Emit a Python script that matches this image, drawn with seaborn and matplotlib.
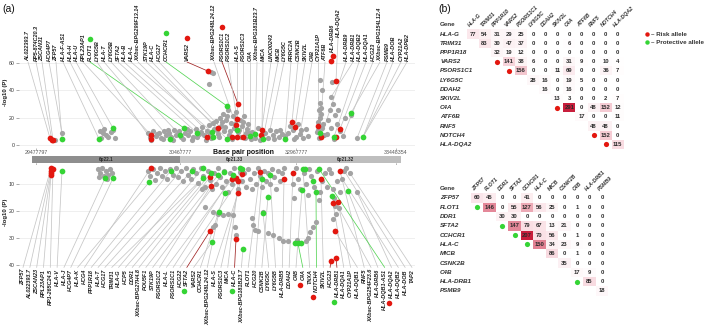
import numpy as np
import pandas as pd
import matplotlib
matplotlib.use("Agg")
import matplotlib.pyplot as plt
import seaborn as sns
from matplotlib.colors import LinearSegmentedColormap
from matplotlib.lines import Line2D

# ==============================================================================
# DATA - panel (a): SNPs ordered along the MHC region (rank), -log10(P)
# ==============================================================================

# --- upper panel: background SNPs ---
TOP_SNP_RANK = (
    [25, 32]
    + [70, 73, 76, 78, 81, 83, 71, 85, 74]
    + [118, 120, 123, 126, 129, 131, 134, 136, 139, 141]
    + [144, 146, 149, 151, 155, 158, 160, 163, 166, 169]
    + [172, 174, 177, 179, 181, 184, 186, 188, 190, 191]
    + [193, 194, 196, 198, 199, 201, 203, 204, 206, 208]
    + [210, 212, 214, 216, 218, 220]
    + [121, 127, 133, 138, 143, 148, 153, 157, 162, 167]
    + [171, 176, 180, 183, 187, 189, 192, 195, 197, 200]
    + [202, 205, 207, 209, 211, 213, 215, 217, 219, 221]
    + [181, 183, 179]
    + [222, 225, 228, 232, 235, 238, 240, 243, 246, 249, 252, 255, 230, 244, 250]
    + [258, 260, 263, 266, 268, 270, 273, 276, 278, 264, 271]
    + [290, 292, 289, 291, 290, 288, 292, 287, 294, 289, 290, 291, 288, 293]
    + [302, 301, 303, 300, 305, 298, 307, 301, 310, 297, 313, 304, 308, 315, 321, 327]
)
TOP_SNP_LOGP = (
    [4, 9]
    + [10, 9, 7, 6, 9.5, 11, 5, 5, 12]
    + [9, 6, 10, 6.5, 9, 5, 10, 7, 9, 6]
    + [11, 7, 10, 6, 9, 7, 10, 6, 12, 8]
    + [13, 7, 10, 14.5, 5, 12, 17.5, 8, 20, 14]
    + [23, 10, 18, 25.6, 7, 16, 21, 12.5, 24, 9.5]
    + [18, 14, 21, 9, 15, 6]
    + [4, 8, 4.5, 11, 4, 8.5, 4.5, 11.5, 4, 6]
    + [9.5, 4, 8, 16, 11, 6, 17, 13, 21, 10]
    + [4.5, 15, 19, 11, 6, 17, 5, 12, 9, 4.5]
    + [53.5, 53, 44.5]
    + [9.5, 5, 12.5, 6.5, 9, 5, 11, 7, 10, 6, 8, 6.5, 4, 4.5, 11]
    + [9, 14, 11, 6, 15, 8, 5, 12, 6.5, 4.5, 11]
    + [47.6, 40, 25.6, 22.7, 20, 17, 12.5, 9.5, 7, 5, 30.7, 27, 11, 15]
    + [46, 35, 30, 25.6, 22, 18, 15, 12.5, 10, 8, 6.5, 4.4, 25.6, 20, 22, 5]
)

# --- upper panel: risk / protective SNPs ---
TOP_RISK_RANK = [20, 22, 23, 121, 121, 177, 178, 188, 206, 207, 208, 207, 202,
                 213, 232, 231, 262, 265, 288, 291, 303, 301, 306, 310, 306]
TOP_RISK_LOGP = [5, 3.7, 3.7, 7.3, 4.4, 5.9, 54, 12.4, 14.6, 19, 30, 5.9, 5.9,
                 5.9, 11, 7.3, 16.8, 13.2, 13.9, 5.9, 65, 61.5, 46.8, 11.7, 5.9]
TOP_PROT_RANK = [32, 69, 83, 140, 150, 154, 167, 182, 183, 197, 197, 207, 220,
                 225, 233, 255, 290, 304, 321, 333]
TOP_PROT_LOGP = [4.4, 4.4, 12.4, 4.4, 7.3, 12.4, 8.8, 9.5, 5.9, 28.5, 4.4, 11, 6.6,
                 8, 4.4, 4.4, 8.8, 5.9, 23.4, 5.9]

# --- upper panel: annotated genes and the SNP each one points to ---
TOP_GENES = ['AL022393.7', 'RP5-874C20.3', 'ZSCAN31', 'HCG4P7', 'ZFP57', 'HLA-F-AS1',
             'HLA-H', 'HLA-U', 'RPL23AP1', 'FLOT1', 'LY6G5B', 'HLA-T', 'LY6G5B', 'SFTA2',
             'HLA-B', 'HLA-L', 'XXbac-BPG299F13.14', 'STK19P', 'HLA-C', 'HCG27', 'CCHCR1',
             'VARS2', 'XXbac-BPG248L24.12', 'PSORS1C1', 'PSORS1C2', 'HLA-S', 'PSORS1C3',
             'C4A', 'XXbac-BPG181B23.7', 'MICA', 'LINC00243', 'MICB', 'LY6G5C', 'PRRC2A',
             'CSNK2B', 'SKIV2L', 'C4B', 'CYP21A1P', 'ATF6B', 'HLA-DRB6', 'HLA-DQA2',
             'HLA-DRB9', 'HLA-DRB1', 'HLA-DQB2', 'HLA-DQA1', 'HCG23', 'XXbac-BPG154L12.4',
             'PSMB9', 'HLA-DOB', 'CYP21A2', 'HLA-DPB2']
TOP_HIT_RANK = [20, 22, 23, 32, 32, 69, 74, 83, 121, 154,
                121, 140, 150, 167, 177, 182, 183, 188, 197, 194,
                197, 178, 206, 208, 207, 207, 213, 220, 225, 232,
                231, 233, 240, 255, 262, 265, 270, 288, 290, 303,
                306, 291, 301, 304, 310, 313, 321, 327, 333, 333, 333]
TOP_HIT_LOGP = [5, 3.7, 3.7, 9, 4.4, 4.4, 12, 12.4, 7.3, 12.4,
                4.4, 4.4, 7.3, 8.8, 5.9, 9.5, 5.9, 12.4, 4.4, 10,
                28.5, 54, 14.6, 30, 19, 11, 5.9, 6.6, 8, 11,
                7.3, 4.4, 11, 4.4, 16.8, 13.2, 8, 13.9, 8.8, 65,
                46.8, 5.9, 35, 5.9, 11.7, 6.5, 23.4, 5, 5.9, 5.9, 5.9]
TOP_RISK_GENES = ['VARS2', 'PSORS1C1']
TOP_PROT_GENES = ['FLOT1', 'CCHCR1']

# --- lower panel: background SNPs ---
BOT_SNP_RANK = (
    [68, 70, 72, 74, 76, 78, 80, 82, 69, 77]
    + [118, 120, 123, 125, 127, 130, 132, 135, 137, 140]
    + [143, 146, 148, 151, 153, 156, 158, 161, 163, 166]
    + [168, 171, 173, 175, 178, 180, 182, 184, 186, 188]
    + [190, 192, 194, 196, 198, 200, 202, 204, 206, 208]
    + [210, 212, 214, 216, 218, 220, 222, 224, 226, 228]
    + [230, 232, 234, 236, 238, 240, 242, 244, 246, 248]
    + [250, 252, 254]
    + [172, 175, 183, 188, 193, 198, 203, 183, 185, 205, 206]
    + [222, 223, 225, 228, 233, 238, 243, 249, 253, 258]
    + [263, 266, 268, 270, 274, 276, 279, 281, 284, 287, 290, 292, 295, 297, 299, 264, 278, 289]
    + [267, 278, 280, 283, 286, 276]
    + [303, 304, 305, 306, 303, 307, 310, 312, 301, 314, 305, 309, 327, 320, 316]
)
BOT_SNP_LOGP = (
    [4.5, 6, 4, 7, 5, 6.5, 4.5, 6, 7.5, 8]
    + [5, 7, 4.5, 8.5, 6, 4, 7, 5, 8, 4.5]
    + [6.5, 4, 7.5, 5, 9, 4, 6.5, 8, 4.5, 6]
    + [9.5, 4, 7, 11, 5, 8.5, 12, 6, 10, 4]
    + [7.5, 11, 5, 9, 13, 6, 10, 4, 8, 12]
    + [5.5, 9, 6, 11, 4.5, 8, 12, 6, 10, 4]
    + [7, 11, 5, 9, 6, 10, 4.5, 7.5, 12, 5]
    + [9, 6, 4]
    + [11.9, 18.5, 20.5, 21, 21.5, 21, 21.5, 26, 25, 26, 29]
    + [22.6, 25, 27, 27.5, 20.4, 28, 29, 30, 31, 31]
    + [10, 4, 8, 12, 6, 10, 4.5, 7, 11, 5, 13, 9, 6, 11, 4.5, 15, 14, 16]
    + [30.7, 30, 27.8, 26, 24, 31]
    + [12, 15, 18, 21, 23, 9, 13, 8, 6, 5, 27.4, 19, 13, 6, 4]
)

# --- lower panel: risk / protective SNPs ---
BOT_RISK_RANK = [21, 21, 21, 21, 23, 121, 180, 181, 202, 208,
                 208, 180, 206, 206, 212, 230, 254, 263, 291, 303,
                 308, 305, 301, 306, 310]
BOT_RISK_LOGP = [4.1, 5, 5.9, 6.7, 4.5, 4.1, 7.4, 10.7, 8.1, 8.9,
                 13.3, 27.4, 30.4, 7.7, 6.3, 5.6, 8.1, 6, 8.1, 17,
                 16.7, 27.4, 38.5, 37.4, 5.2]
BOT_PROT_RANK = [32, 75, 83, 119, 141, 162, 173, 173, 181, 188,
                 194, 203, 210, 195, 189, 182, 213, 212, 232, 240,
                 238, 233, 273, 275, 272, 265, 268, 271, 283, 286,
                 289, 302, 318]
BOT_PROT_LOGP = [5, 7.9, 7.9, 9.4, 5, 5, 4.1, 7.9, 5.9, 6.7,
                 5.6, 6.7, 4.1, 13.3, 20.4, 31.5, 34, 4.4, 8.1, 6.7,
                 14.8, 20.7, 4.4, 4.4, 12.2, 32, 32, 32, 8.9, 13,
                 4.4, 14.4, 12.6]

# --- lower panel: annotated genes ---
BOT_GENES = ['ZFP57', 'AL022393.7', 'ZSCAN23', 'RPL23AP1', 'RP1-265C24.5', 'HLA-V', 'HLA-J',
             'HCG4P7', 'HLA-K', 'HCG4', 'PPP1R18', 'HLA-T', 'HCG17', 'TRIM31', 'HLA-G', 'HCP5',
             'DDR1', 'XXbac-BPG27H4.8', 'POU5F1', 'STK19P', 'PSORS1C2', 'HLA-L', 'PSORS1C1',
             'HCG22', 'SFTA2', 'VARS2', 'CCHCR1', 'XXbac-BPG248L24.12', 'HLA-S', 'PSORS1C3',
             'MICA', 'HLA-C', 'XXbac-BPG181B23.7', 'FLOT1', 'HCG20', 'CSNK2B', 'LY6G5C',
             'LY6G5B', 'HLA-DRB5', 'DDAH2', 'C4B', 'C4A', 'TNXA', 'NOTCH4', 'SKIV2L', 'HCG23',
             'HLA-DRB1', 'HLA-DQA1', 'CYP21A1P', 'HLA-DQB1', 'RNF5', 'XXbac-BPG254F23.6',
             'HLA-DRB6', 'HLA-DQB1-AS1', 'HLA-DQA2', 'HLA-DQB2', 'HLA-DOB', 'TAP2']
BOT_HIT_RANK = [21, 21, 21, 21, 23, 32, 75, 83, 119, 121,
                141, 151, 162, 168, 173, 173, 181, 180, 188, 194,
                181, 202, 203, 208, 180, 182, 195, 189, 208, 212,
                210, 206, 213, 230, 232, 238, 233, 240, 254, 263,
                272, 268, 273, 286, 291, 301, 306, 303, 308, 305,
                310, 302, 318, 289, 327, 312, 314, 320]
BOT_HIT_LOGP = [4.1, 5, 5.9, 6.7, 4.5, 5, 7.9, 7.9, 9.4, 4.1,
                5, 5, 5, 9.5, 4.1, 7.9, 5.9, 7.4, 6.7, 5.6,
                10.7, 8.1, 6.7, 8.9, 27.4, 31.5, 13.3, 20.4, 13.3, 6.3,
                4.1, 30.4, 34, 5.6, 8.1, 14.8, 20.7, 6.7, 8.1, 6,
                12.2, 32, 4.4, 13, 8.1, 38.5, 37.4, 17, 16.7, 27.4,
                5.2, 14.4, 12.6, 4.4, 13, 8, 5, 6]
BOT_LINE_RISK = ['SFTA2', 'HLA-C', 'HCG23', 'HLA-DRB1']
BOT_LINE_PROT = ['C4A', 'NOTCH4', 'HLA-DQB1-AS1']
BOT_DOT_RISK = ['C4A', 'NOTCH4', 'HLA-DQA2']
BOT_DOT_PROT = ['SFTA2', 'HLA-C', 'HLA-DRB1']

# --- base pair axis and cytobands ---
BP_TICK_RANK = [6, 150, 266, 366]
BP_TICK_LABELS = ['29477797', '30467777', '32967777', '33448354']
BANDS = ['6p22.1', '6p21.33', '6p21.32']
BAND_START = [2, 150, 260]
BAND_END = [150, 260, 371]

# ==============================================================================
# DATA - panel (b): LD (pairwise) counts
# ==============================================================================
M1_GENES = ['HLA-G', 'TRIM31', 'PPP1R18', 'VARS2', 'PSORS1C1', 'LY6G5C', 'DDAH2',
            'SKIV2L', 'C4A', 'ATF6B', 'RNF5', 'NOTCH4', 'HLA-DQA2']
M1_ROWS = [[77, 54, 31, 29, 25, 0, 0, 0, 0, 0, 0, 0, 0],
           [83, 30, 47, 37, 0, 0, 0, 6, 0, 0, 0, 0],
           [32, 19, 12, 0, 0, 0, 0, 0, 0, 0, 0],
           [141, 38, 6, 0, 0, 31, 9, 0, 10, 4],
           [156, 0, 0, 11, 69, 0, 0, 36, 7],
           [28, 16, 0, 19, 5, 0, 0, 0],
           [16, 0, 16, 0, 0, 0, 0],
           [13, 3, 0, 0, 2, 7],
           [291, 0, 48, 152, 12],
           [17, 0, 0, 11],
           [48, 48, 0],
           [152, 0],
           [115]]
M1_RISK = ['VARS2', 'PSORS1C1', 'C4A', 'NOTCH4', 'HLA-DQA2']

M2_GENES = ['ZFP57', 'FLOT1', 'DDR1', 'SFTA2', 'CCHCR1', 'HLA-C', 'MICB', 'CSNK2B',
            'C4B', 'HLA-DRB1', 'PSMB9']
M2_ROWS = [[60, 45, 0, 0, 41, 0, 0, 0, 0, 0, 0],
           [146, 0, 55, 127, 56, 25, 0, 1, 0, 0],
           [30, 30, 0, 0, 0, 0, 0, 0, 0],
           [147, 79, 67, 13, 21, 0, 0, 0],
           [207, 70, 56, 0, 1, 0, 0],
           [150, 34, 23, 9, 6, 0],
           [86, 0, 1, 0, 0],
           [35, 0, 0, 0],
           [17, 9, 0],
           [85, 0],
           [18]]
M2_PROT = ['FLOT1', 'SFTA2', 'CCHCR1', 'HLA-C', 'HLA-DRB1']

# ==============================================================================
# STYLE / LAYOUT
# ==============================================================================
W, H = 709, 327
GRAY_PT = '#a3a3a3'
RISK_C = '#e3170f'
PROT_C = '#35d435'
LINE_GRAY = '#c6c6c6'
LINE_RISK = '#a02424'
LINE_PROT = '#55d455'
TXT = '#1e1e1e'

sns.set_theme(style='white')
plt.rcParams['font.family'] = ['Liberation Sans', 'DejaVu Sans']


def px_axes(fig, left, top, width, height):
    return fig.add_axes([left / W, 1 - (top + height) / H, width / W, height / H])


def triangle(rows):
    n = len(rows)
    m = np.full((n, n), np.nan)
    for i, r in enumerate(rows):
        m[i, i:i + len(r)] = r
    return m


fig = plt.figure(figsize=(W / 100, H / 100), dpi=100)

ax_top = px_axes(fig, 19, 52, 396, 96)
ax_mid = px_axes(fig, 19, 148, 396, 17)
ax_bot = px_axes(fig, 19, 165, 396, 103)

XLIM = (-11, 385)

# --- snps ---
top_bg = pd.DataFrame({'rank': TOP_SNP_RANK, 'logp': TOP_SNP_LOGP})
bot_bg = pd.DataFrame({'rank': BOT_SNP_RANK, 'logp': BOT_SNP_LOGP})
for ax, bg, rr, rl, pr, pl in [
        (ax_top, top_bg, TOP_RISK_RANK, TOP_RISK_LOGP, TOP_PROT_RANK, TOP_PROT_LOGP),
        (ax_bot, bot_bg, BOT_RISK_RANK, BOT_RISK_LOGP, BOT_PROT_RANK, BOT_PROT_LOGP)]:
    sns.scatterplot(data=bg, x='rank', y='logp', color=GRAY_PT, s=14, linewidth=0,
                    ax=ax, zorder=3, legend=False)
    sns.scatterplot(x=rr, y=rl, color=RISK_C, s=17, linewidth=0, ax=ax, zorder=4, legend=False)
    sns.scatterplot(x=pr, y=pl, color=PROT_C, s=17, linewidth=0, ax=ax, zorder=4, legend=False)

# --- axes styling ---
ax_top.set_xlim(*XLIM)
ax_top.set_ylim(-2.2, 68)
ax_top.set_yticks([0, 20, 40, 60])
ax_bot.set_xlim(*XLIM)
ax_bot.set_ylim(41.1, 2.96)
ax_bot.set_yticks([10, 20, 30, 40])
for ax in (ax_top, ax_bot):
    for sp in ax.spines.values():
        sp.set_visible(False)
    ax.grid(axis='y', color='#ececec', lw=0.6)
    ax.grid(axis='x', visible=False)
    ax.set_xlabel('')
    ax.set_ylabel('')
    ax.tick_params(axis='y', labelsize=3.8, length=2, width=0.5, color='#888',
                   pad=1, labelcolor='#333', left=True)
    ax.set_xticks([])
ax_top.set_xticks(BP_TICK_RANK)
ax_top.tick_params(axis='x', length=1.5, width=0.5, color='#999', bottom=True, labelbottom=False)

fig.text(6 / W, 1 - 92 / H, '-log10 (P)', rotation=90, ha='center', va='center',
         fontsize=4.3, fontweight='bold', color=TXT)
fig.text(6 / W, 1 - 212 / H, '-log10 (P)', rotation=90, ha='center', va='center',
         fontsize=4.3, fontweight='bold', color=TXT)

# --- chromosome bar ---
ax_mid.set_xlim(*XLIM)
ax_mid.set_ylim(1, 0)
ax_mid.axis('off')
band_cols = ['#8e8e8e', '#c8c8c8', '#bebebe']
for b, s, e, c in zip(BANDS, BAND_START, BAND_END, band_cols):
    ax_mid.barh(0.68, e - s, left=s, height=0.38, color=c, edgecolor='none')
    ax_mid.text((s + e) / 2, 0.68, b, ha='center', va='center', fontsize=3.3,
                fontweight='bold', color='#2a2a2a')
for r, lab in zip(BP_TICK_RANK, BP_TICK_LABELS):
    ax_mid.text(r, 0.24, lab, ha='center', va='center', fontsize=3.8, color='#555')
    ax_mid.plot([r, r], [0.88, 0.98], color='#999', lw=0.5)
ax_mid.text(183, 0.24, 'Base pair position', ha='left', va='center', fontsize=5,
            fontweight='bold', color='#111')

# --- gene annotations with connector lines ---
TOP_SLOT = [-2, 6, 12, 19, 26, 33, 40, 46, 53, 60,
            67, 74, 81, 88, 94, 101, 108, 116, 122, 129,
            136, 157, 184, 192, 198, 207, 213, 220, 227, 233,
            241, 248, 254, 261, 268, 275, 282, 288, 295, 302,
            308, 316, 323, 329, 336, 343, 350, 357, 363, 371, 377]
top_base = {'HLA-DRB6': 67.5, 'HLA-DQA2': 78}
top_texts = {}
for g, sx, hx, hy in zip(TOP_GENES, TOP_SLOT, TOP_HIT_RANK, TOP_HIT_LOGP):
    base = top_base.get(g, 60.7)
    col = LINE_RISK if g in TOP_RISK_GENES else LINE_PROT if g in TOP_PROT_GENES else LINE_GRAY
    ax_top.plot([sx, hx], [base, hy], color=col, lw=0.55, zorder=2, clip_on=False)
    t = ax_top.text(sx, base + 0.8, g, rotation=90, rotation_mode='anchor', ha='left',
                    va='center', fontsize=4.0, style='italic', fontweight='bold', color=TXT)
    top_texts[g] = t

BOT_SLOT = np.linspace(-7, 382, len(BOT_GENES))
bot_texts = {}
for g, sx, hx, hy in zip(BOT_GENES, BOT_SLOT, BOT_HIT_RANK, BOT_HIT_LOGP):
    col = LINE_RISK if g in BOT_LINE_RISK else LINE_PROT if g in BOT_LINE_PROT else LINE_GRAY
    ax_bot.plot([sx, hx], [40.9, hy], color=col, lw=0.55, zorder=2, clip_on=False)
    t = ax_bot.text(sx, 41.5, g, rotation=90, rotation_mode='anchor', ha='right',
                    va='center', fontsize=3.95, style='italic', fontweight='bold', color=TXT)
    bot_texts[g] = t

# ==============================================================================
# PANEL (b): heatmaps
# ==============================================================================
cmap = LinearSegmentedColormap.from_list('ld', ['#ffffff', '#f7d3da', '#c81e3c'])
ax_m1 = px_axes(fig, 466.5, 29.4, 157.3, 119.6)
ax_m2 = px_axes(fig, 470.75, 193.35, 137.5, 102.3)

for axm, genes, rows, dots, dcol, lab_x in [
        (ax_m1, M1_GENES, M1_ROWS, M1_RISK, RISK_C, -2.19),
        (ax_m2, M2_GENES, M2_ROWS, M2_PROT, PROT_C, -2.46)]:
    mat = triangle(rows)
    sns.heatmap(mat, ax=axm, cmap=cmap, vmin=0, vmax=np.nanmax(mat), annot=True, fmt='.0f',
                annot_kws=dict(fontsize=4.2, fontweight='bold', color='#2b2b2b'),
                cbar=False, xticklabels=False, yticklabels=False)
    axm.set_xticks([])
    axm.set_yticks([])
    axm.text(lab_x, -0.5, 'Gene', ha='left', va='center', fontsize=4.5,
             fontweight='bold', color='#333')
    for i, g in enumerate(genes):
        axm.text(lab_x, i + 0.5, g, ha='left', va='center', fontsize=4.5,
                 style='italic', fontweight='bold', color='#333')
        axm.text(i + 0.35, -0.2, g, rotation=45, rotation_mode='anchor', ha='left',
                 va='bottom', fontsize=3.8, style='italic', fontweight='bold', color='#333')
        if g in dots:
            axm.scatter(i - 0.5, i + 0.5, s=14, color=dcol, linewidth=0, clip_on=False, zorder=5)

fig.text(2 / W, 1 - 9 / H, '(a)', fontsize=7.5, va='center', ha='left', color='#111')
fig.text(438 / W, 1 - 9 / H, '(b)', fontsize=7.5, va='center', ha='left', color='#111')

handles = [Line2D([], [], marker='o', ls='', color=RISK_C, markersize=3.2, markeredgewidth=0),
           Line2D([], [], marker='o', ls='', color=PROT_C, markersize=3.2, markeredgewidth=0)]
fig.legend(handles=handles, labels=['\u2013 Risk allele', '\u2013 Protective allele'],
           loc='upper left', bbox_to_anchor=(641 / W, 1 - 29 / H), frameon=False,
           prop={'size': 4.5, 'weight': 'bold'}, handlelength=0.8, handletextpad=0.3,
           labelspacing=0.3, borderpad=0, labelcolor='#333')

# --- allele dots at the end of the labels ---
fig.canvas.draw()
renderer = fig.canvas.get_renderer()
for genes, col in [(TOP_PROT_GENES, PROT_C), (TOP_RISK_GENES, RISK_C)]:
    for g in genes:
        bb = top_texts[g].get_window_extent(renderer)
        xd, yd = ax_top.transData.inverted().transform(((bb.x0 + bb.x1) / 2, bb.y1 + 5))
        ax_top.scatter(xd, yd, s=16, color=col, linewidth=0, clip_on=False, zorder=5)
for genes, col in [(BOT_DOT_PROT, PROT_C), (BOT_DOT_RISK, RISK_C)]:
    for g in genes:
        bb = bot_texts[g].get_window_extent(renderer)
        xd, yd = ax_bot.transData.inverted().transform(((bb.x0 + bb.x1) / 2 - 3, bb.y0 - 5))
        ax_bot.scatter(xd, yd, s=16, color=col, linewidth=0, clip_on=False, zorder=5)
ax_top.set_xlim(*XLIM)
ax_top.set_ylim(-2.2, 68)
ax_bot.set_xlim(*XLIM)
ax_bot.set_ylim(41.1, 2.96)

fig.savefig('out.png', dpi=100)
